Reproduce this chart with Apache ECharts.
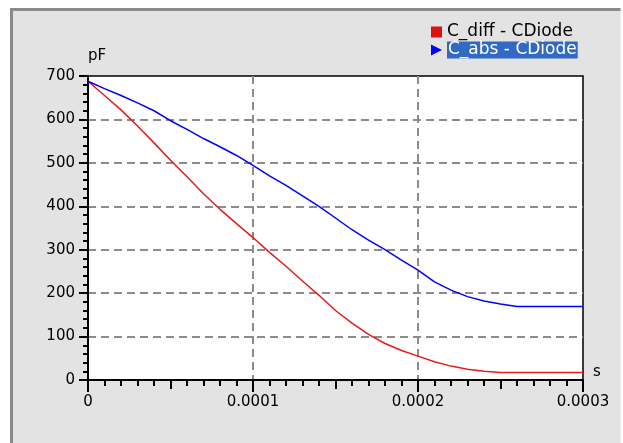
<!DOCTYPE html>
<html>
<head>
<meta charset="utf-8">
<script src="https://cdn.jsdelivr.net/npm/echarts@6/dist/echarts.min.js"></script>
<style>
  html, body { margin: 0; padding: 0; background: #fff; }
  #main { width: 623px; height: 443px; }
</style>
</head>
<body>
<div id="main"></div>
<script>
// time axis (s) and the two capacitance curves (pF)
const times = [0, 0.00001, 0.00002, 0.00003, 0.00004, 0.00005, 0.00006, 0.00007, 0.00008, 0.00009,
  0.0001, 0.00011, 0.00012, 0.00013, 0.00014, 0.00015, 0.00016, 0.00017, 0.00018, 0.00019,
  0.0002, 0.00021, 0.00022, 0.00023, 0.00024, 0.00025, 0.00026, 0.00027, 0.00028, 0.00029, 0.0003];
const cDiff = [688, 655, 622, 585, 546, 506, 468, 429, 393, 360,
  328, 294, 262, 228, 195, 160, 131, 105, 84, 68,
  55, 42, 32, 25, 20, 17, 17, 17, 17, 17, 17];
const cAbs = [688, 671, 655, 638, 620, 597, 577, 556, 537, 517,
  494, 470, 448, 424, 400, 373, 346, 322, 300, 276,
  253, 226, 207, 192, 182, 175, 169, 169, 169, 169, 169];
const seriesNames = ['C_diff - CDiode', 'C_abs - CDiode'];
const yTicks = [0, 700, 100];
const xTicks = [0, 0.0003, 0.0001];

const font = 'DejaVu Sans';
const chart = echarts.init(document.getElementById('main'));

const pairs = arr => times.map((t, i) => [t, arr[i]]);

const gridDash = { show: true, showMinLine: false, showMaxLine: false,
  lineStyle: { color: '#8c8c8c', width: 2, type: [8, 5] } };

const option = {
  animation: false,
  backgroundColor: '#ffffff',
  graphic: [
    { type: 'rect', z: -10, silent: true,
      shape: { x: 10, y: 8, width: 611, height: 440 },
      style: { fill: '#e3e3e3' } },
    { type: 'polyline', z: -9, silent: true,
      shape: { points: [[11.5, 450], [11.5, 9.5], [621, 9.5]] },
      style: { fill: null, stroke: '#8a8a8a', lineWidth: 3 } },
    { type: 'line', z: -9, silent: true,
      shape: { x1: 621.5, y1: 8, x2: 621.5, y2: 450 },
      style: { stroke: '#fafafa', lineWidth: 2 } }
  ],
  legend: {
    orient: 'vertical',
    left: 426, top: 18,
    itemWidth: 11, itemHeight: 11, itemGap: 0,
    selectedMode: false,
    textStyle: {
      fontFamily: font, fontSize: 17, lineHeight: 18, color: '#000',
      rich: { sel: { fontFamily: font, fontSize: 17, lineHeight: 18, color: '#fff', backgroundColor: '#316ac5', padding: [0, 1, 0, 1] } }
    },
    formatter: name => name === seriesNames[1] ? '{sel|' + name + '}' : name,
    data: [
      { name: seriesNames[0], icon: 'rect' },
      { name: seriesNames[1], icon: 'path://M0,0L10,5L0,10Z' }
    ]
  },
  grid: {
    left: 88, top: 76, right: 40, bottom: 63,
    show: true, backgroundColor: '#fff', borderColor: '#000', borderWidth: 1.5
  },
  xAxis: [{
    type: 'value',
    min: xTicks[0], max: xTicks[1], interval: xTicks[2],
    name: 's', nameLocation: 'end', nameGap: 10,
    nameTextStyle: { fontFamily: font, fontSize: 15, color: '#000', verticalAlign: 'bottom' },
    axisLine: { lineStyle: { color: '#000', width: 2 } },
    axisTick: { length: 12, lineStyle: { color: '#000', width: 2 } },
    minorTick: { show: true, splitNumber: 10, length: 6, lineStyle: { color: '#000', width: 2 } },
    axisLabel: {
      margin: 15, fontFamily: font, fontSize: 15, color: '#000',
      formatter: v => String(+v.toFixed(4))
    },
    splitLine: gridDash
  }, {
    type: 'value', position: 'bottom',
    min: xTicks[0], max: xTicks[1], interval: xTicks[2] / 2,
    axisLine: { show: false },
    axisTick: { length: 9, lineStyle: { color: '#000', width: 2 } },
    axisLabel: { show: false },
    splitLine: { show: false }
  }],
  yAxis: {
    type: 'value',
    min: yTicks[0], max: yTicks[1], interval: yTicks[2],
    name: 'pF', nameLocation: 'end', nameGap: 12,
    nameTextStyle: { fontFamily: font, fontSize: 15, color: '#000', align: 'left' },
    axisLine: { show: true, lineStyle: { color: '#000', width: 2 } },
    axisTick: { show: true, length: 9, lineStyle: { color: '#000', width: 2 } },
    minorTick: { show: true, splitNumber: 5, length: 5, lineStyle: { color: '#000', width: 2 } },
    axisLabel: { margin: 13, fontFamily: font, fontSize: 15, color: '#000' },
    splitLine: gridDash
  },
  series: [
    {
      name: seriesNames[0], type: 'line', showSymbol: false,
      color: '#dd1111',
      lineStyle: { width: 1.5, color: '#e31c1c' },
      data: pairs(cDiff)
    },
    {
      name: seriesNames[1], type: 'line', showSymbol: false,
      color: '#0000ff',
      lineStyle: { width: 1.5, color: '#0000ff' },
      data: pairs(cAbs)
    }
  ]
};

chart.setOption(option);
</script>
</body>
</html>
